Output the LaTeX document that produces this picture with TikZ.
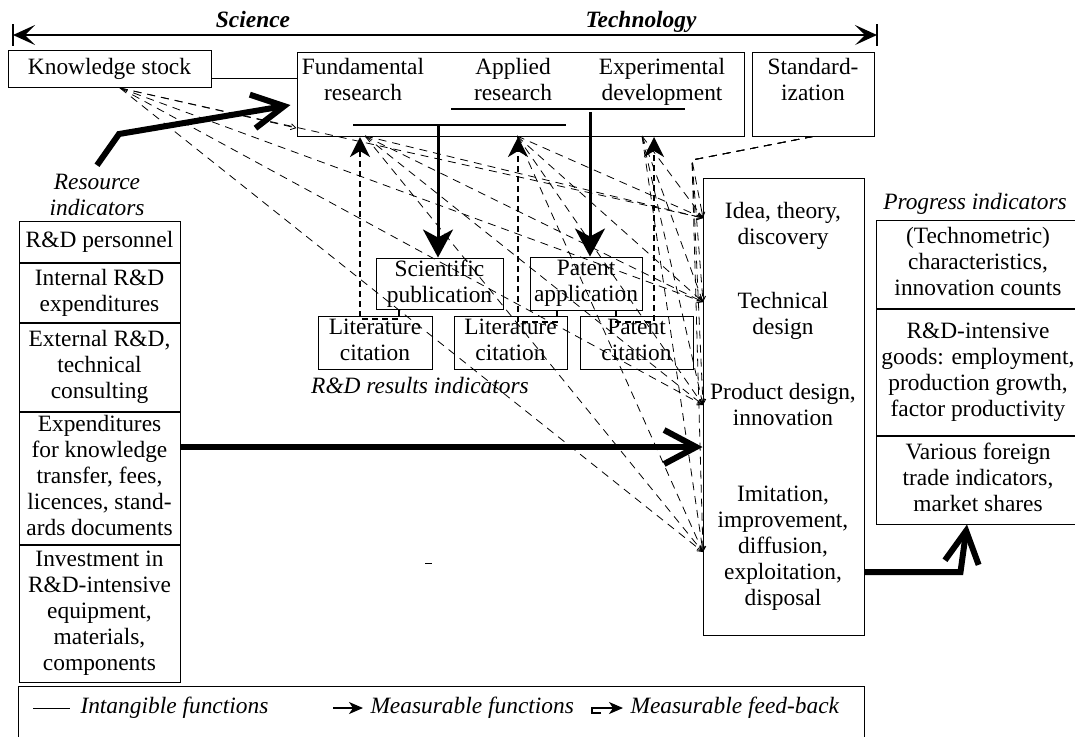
\documentclass[tikz,border=0pt]{standalone}
\usepackage{fontspec}
\setmainfont{Liberation Serif}
\usetikzlibrary{arrows.meta, positioning}

\begin{document}
\begin{tikzpicture}[x=0.5pt, y=-0.5pt, >=Stealth, line width=0.5pt, font=\fontsize{11.7}{13}\selectfont]
    \tikzstyle{box} = [draw, rectangle, inner sep=0.3pt, align=center, text depth=2.6pt]
    \tikzstyle{txt} = [inner sep=0pt, align=center, text depth=2.6pt]
    \tikzstyle{lbl} = [inner sep=0pt, align=center, text depth=2.6pt, font=\fontsize{11.7}{13}\selectfont\itshape]
    \tikzstyle{axislbl} = [inner sep=0pt, text height=8.2pt, text depth=2.6pt, font=\fontsize{11.7}{13}\selectfont\bfseries\itshape]
    \tikzstyle{intang} = [line width=1.2pt]
    \tikzstyle{meas} = [line width=1.5pt, -{Stealth[length=14pt, width=15pt, inset=4pt]}]
    \tikzstyle{feedback} = [densely dashed, line width=1pt, -{Stealth[length=10pt, width=10pt, inset=3pt]}]
    \tikzstyle{bigarr} = [line width=3pt, -{Straight Barb[length=16pt, width=17pt]}]
    \tikzstyle{link} = [dash pattern=on 4pt off 3pt, line width=0.4pt, -{Straight Barb[length=2.5pt, width=3pt]}]

    \useasboundingbox (0,0) rectangle (1075,736);

    % science - technology axis
    \coordinate (sciL) at (13,35);
    \coordinate (techR) at (877,35);
    \draw[line width=0.7pt, {Stealth[length=11pt, width=10pt, inset=5pt]}-{Stealth[length=11pt, width=10pt, inset=5pt]}] (sciL) -- (techR);
    \draw[line width=0.7pt] ([yshift=5.5pt]sciL) -- ([yshift=-5.5pt]sciL);
    \draw[line width=0.7pt] ([yshift=5.5pt]techR) -- ([yshift=-5.5pt]techR);
    \node[axislbl] (sci) at (253,22) {Science};
    \node[axislbl] (tech) at (641,22) {Technology};

    % top row
    \node[box, minimum width=101.5pt, minimum height=18.5pt] (ks) at (109.5,68.5) {Knowledge stock};
    \node[box, minimum width=223.5pt, minimum height=42pt] (main) at (520.5,94) {};
    \node[txt] (fund) at (363,82) {Fundamental\\research};
    \node[txt] (appl) at (513,82) {Applied\\research};
    \node[txt] (expdev) at (662,82) {Experimental\\development};
    \node[box, minimum width=61pt, minimum height=42pt] (std) at (813,94) {};
    \node[txt] (stdtxt) at (813,82) {Standard-\\ization};

    % resource indicators
    \node[lbl] (resind) at (97,197) {Resource\\indicators};
    \node[box, minimum width=80.5pt, minimum height=20.5pt] (r1) at (99.5,241.5) {R\&D personnel};
    \node[box, minimum width=80.5pt, minimum height=29.5pt, below=0pt of r1] (r2) {Internal R\&D\\expenditures};
    \node[box, minimum width=80.5pt, minimum height=44pt, below=0pt of r2] (r3) {External R\&D,\\technical\\consulting};
    \node[box, minimum width=80.5pt, minimum height=66pt, below=0pt of r3] (r4) {Expenditures\\for knowledge\\transfer, fees,\\licences, stand-\\ards documents};
    \node[box, minimum width=80.5pt, minimum height=68.5pt, below=0pt of r4] (r5) {Investment in\\R\&D-intensive\\equipment,\\materials,\\components};

    % R&D results
    \node[box, minimum width=63.5pt, minimum height=25.5pt] (scipub) at (439.5,283.5) {Scientific\\publication};
    \node[box, minimum width=56pt, minimum height=26.5pt] (patapp) at (586,283.5) {Patent\\application};
    \node[box, minimum width=57pt, minimum height=26.5pt] (litcit1) at (375,342.5) {Literature\\citation};
    \node[box, minimum width=56.5pt, minimum height=26.5pt] (litcit2) at (510.5,342.5) {Literature\\citation};
    \node[box, minimum width=56.5pt, minimum height=26.5pt] (patcit) at (636.5,342.5) {Patent\\citation};
    \node[lbl] (resultind) at (420,388) {R\&D results indicators};

    % stages
    \node[box, minimum width=80.5pt, minimum height=228.5pt] (stage) at (783.5,406.5) {};
    \node[txt] (idea) at (783,226) {Idea, theory,\\discovery};
    \node[txt] (techdes) at (783,315.5) {Technical\\design};
    \node[txt] (proddes) at (783,406.5) {Product design,\\innovation};
    \node[txt] (imit) at (783,548) {Imitation,\\improvement,\\diffusion,\\exploitation,\\disposal};

    % progress indicators
    \node[lbl] (progind) at (975,204) {Progress indicators};
    \node[box, minimum width=102pt, minimum height=44pt] (p1) at (978,264) {(Technometric)\\characteristics,\\innovation counts};
    \node[box, minimum width=102pt, minimum height=63pt, below=0pt of p1] (p2) {R\&D-intensive\\goods: employment,\\production growth,\\factor productivity};
    \node[box, minimum width=102pt, minimum height=44pt, below=0pt of p2] (p3) {Various foreign\\trade indicators,\\market shares};

    % intangible functions
    \coordinate (ksOut) at ([yshift=-4.75pt]ks.east);
    \draw (ksOut) -- (ksOut -| main.west);
    \coordinate (fa1) at (353,125);
    \coordinate (fa2) at (566,125);
    \coordinate (ae1) at (451,109);
    \coordinate (ae2) at (685,109);
    \draw[intang] (fa1) -- (fa2);
    \draw[intang] (ae1) -- (ae2);

    % measurable functions
    \coordinate (faOut) at (438,125);
    \coordinate (aeOut) at (590,112);
    \draw[meas] (faOut) -- (faOut |- scipub.north);
    \draw[meas] (aeOut) -- (aeOut |- patapp.north);
    \coordinate (resBend) at (119,134);
    \draw[bigarr] ([yshift=4pt]resind.north) -- (resBend) -- ([xshift=-3pt, yshift=-5.5pt]main.west);
    \coordinate (expOut) at ([yshift=15.5pt]r4.east);
    \draw[bigarr] (expOut) -- (expOut -| stage.west);
    \coordinate (imitOut) at ([yshift=-82.75pt]stage.east);
    \draw[bigarr] (imitOut) -- ++(48pt,0) -- ([xshift=-5.5pt]p3.south);

    % measurable feed-back
    \coordinate (fb1) at (360,137);
    \coordinate (fb2) at (518,137);
    \coordinate (fb3) at (654,137);
    \draw[feedback] ([xshift=-20.25pt]scipub.south) -- ++(0,-4.5pt) -| (fb1);
    \draw[feedback] ([xshift=-14.5pt]patapp.south) -- ++(0,-5.5pt) -| (fb2);
    \draw[feedback] ([xshift=15pt]patapp.south) -- ++(0,-5.5pt) -| (fb3);

    % dashed links to the stages
    \coordinate (ksDash) at (120,88);
    \coordinate (fundDash) at (365,136);
    \coordinate (applDash) at (517,136);
    \coordinate (expDash) at (642,136);
    \coordinate (stdBend) at (692,160);
    \coordinate (tIdea) at (703,218);
    \coordinate (tTech) at (703,302);
    \coordinate (tProd) at (703,405);
    \coordinate (tImit) at (703,552);
    \draw[link] (ksDash) -- ([yshift=-17pt]main.west);
    \foreach \s in {ksDash, fundDash, applDash, expDash}
        \foreach \t in {tIdea, tTech, tProd, tImit}
            \draw[link] (\s) -- (\t);
    \foreach \t in {tIdea, tTech, tProd, tImit}
        \draw[link] (std.south) -- (stdBend) -- (\t);
    \draw (425,563) -- (432,563);

    % legend
    \node[draw, minimum width=423pt, minimum height=34pt] (legend) at (441,720) {};
    \coordinate (lgA) at (33,708);
    \coordinate (lgB) at (70,708);
    \draw (lgA) -- (lgB);
    \node[lbl, anchor=west] (lgtxt1) at (80,708) {Intangible functions};
    \coordinate (lgC) at (333,708);
    \coordinate (lgD) at (363,708);
    \draw[line width=0.6pt, -{Stealth[length=7pt, width=6pt, inset=2pt]}] (lgC) -- (lgD);
    \node[lbl, anchor=west] (lgtxt2) at (370,708) {Measurable functions};
    \coordinate (lgE) at (601,713);
    \coordinate (lgF) at (623,708);
    \draw[line width=0.6pt, -{Stealth[length=7pt, width=6pt, inset=2pt]}] (lgE) -- ++(-4.5pt,0) |- (lgF);
    \node[lbl, anchor=west] (lgtxt3) at (630,708) {Measurable feed-back};
\end{tikzpicture}
\end{document}
